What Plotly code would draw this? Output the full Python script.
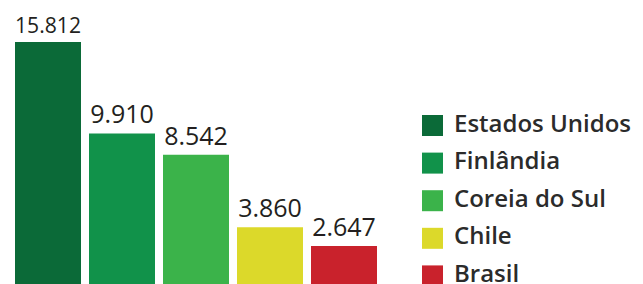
import plotly.graph_objects as go

categories = ["Estados Unidos", "Finlândia", "Coreia do Sul", "Chile", "Brasil"]
values = [15.812, 9.910, 8.542, 3.860, 2.647]
value_labels = ["15.812", "9.910", "8.542", "3.860", "2.647"]
bar_colors = ["#0b6a38", "#11924a", "#3bb34a", "#dcd92a", "#c9222c"]

W, H = 643, 284
fig = go.Figure()

fig.add_trace(go.Bar(
    x=categories, y=values, marker=dict(color=bar_colors, line=dict(width=0)),
    text=value_labels, textposition="outside", cliponaxis=False,
    textfont=dict(family="Open Sans", size=25, color="#231f20"),
    showlegend=False, hoverinfo="skip",
))

idx = list(range(len(categories)))
fig.add_trace(go.Scatter(
    x=[0] * len(categories), y=idx, mode="markers",
    marker=dict(symbol="square", size=21, color=bar_colors, line=dict(width=0)),
    xaxis="x2", yaxis="y2", showlegend=False, hoverinfo="skip", cliponaxis=False,
))
fig.add_trace(go.Scatter(
    x=[21.5] * len(categories), y=idx, mode="text", text=categories,
    textposition="middle right",
    textfont=dict(family="Open Sans", size=24, color="#2b2b2b", weight=600),
    xaxis="x2", yaxis="y2", showlegend=False, hoverinfo="skip", cliponaxis=False,
))

fig.update_layout(
    width=W, height=H, margin=dict(l=0, r=0, t=0, b=5),
    paper_bgcolor="white", plot_bgcolor="white",
    bargap=0.108,
    xaxis=dict(domain=[3 / W, 373 / W], visible=False, range=[-0.5, 4.5]),
    yaxis=dict(domain=[0, 1], visible=False, range=[0, 18.01]),
    xaxis2=dict(domain=[392 / W, 1], visible=False, range=[-32.5, 218.5], anchor="y2"),
    yaxis2=dict(domain=[0, 1], visible=False, range=[4.295, -3.125], anchor="x2"),
)

fig.write_html("out.html")
